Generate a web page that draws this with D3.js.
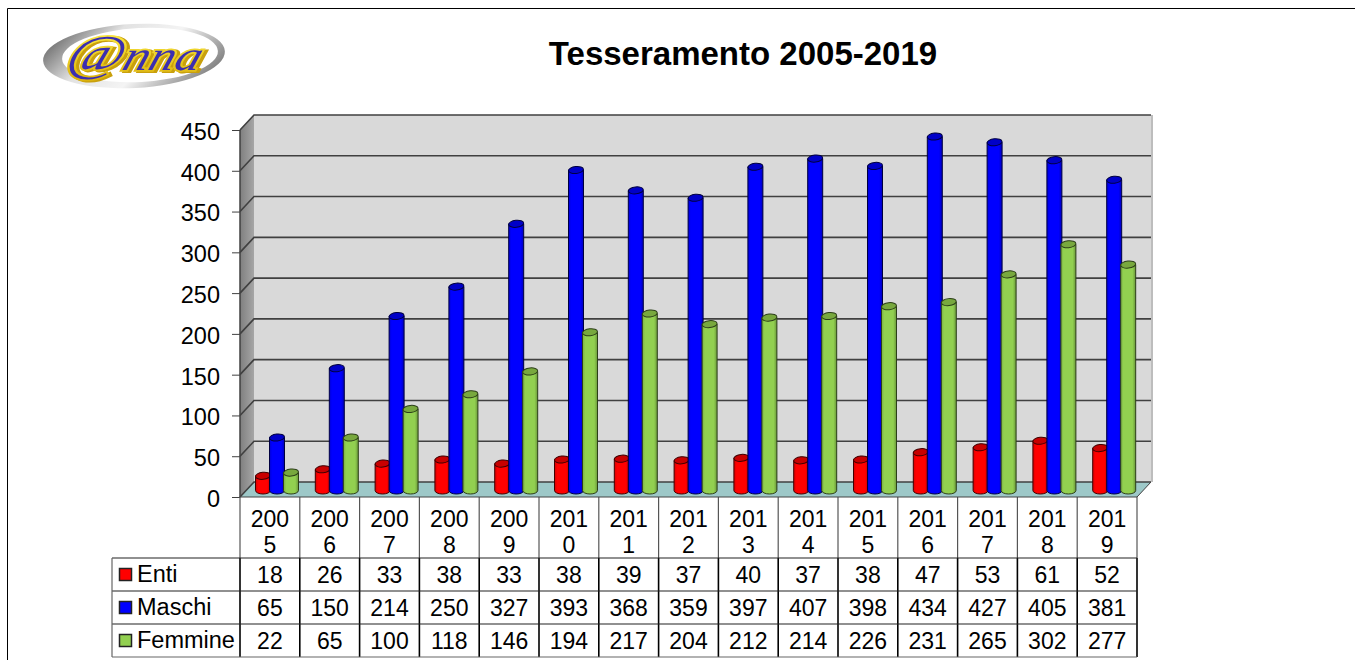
<!DOCTYPE html>
<html>
<head>
<meta charset="utf-8">
<script src="https://cdn.jsdelivr.net/npm/d3@7"></script>
<style>
  html, body { margin: 0; padding: 0; background: #fff; overflow: hidden; }
  svg { display: block; font-family: "Liberation Sans", Arial, sans-serif; }
</style>
</head>
<body>
<svg id="chart" width="1355" height="660"></svg>
<script>
/* ---------- Daten ---------- */
const years   = ["2005","2006","2007","2008","2009","2010","2011","2012","2013","2014","2015","2016","2017","2018","2019"];
const enti    = [18,26,33,38,33,38,39,37,40,37,38,47,53,61,52];
const maschi  = [65,150,214,250,327,393,368,359,397,407,398,434,427,405,381];
const femmine = [22,65,100,118,146,194,217,204,212,214,226,231,265,302,277];
const yTicks  = [0,50,100,150,200,250,300,350,400,450];

const seriesNames  = ["Enti","Maschi","Femmine"];
const seriesValues = [enti, maschi, femmine];
const seriesFill   = ["#ff0000","#0000ff","#92d050"];
const seriesTop    = ["#c80000","#0000c8","#78a83e"];
const seriesEdge   = ["#400000","#000040","#2c3f18"];

/* ---------- Grund-Setup ---------- */
const svg = d3.select("#chart");
const depth = { x: 14, y: 15 };
const plot = { left: 240, right: 1137, top: 130, bottom: 497 };

const x = d3.scaleBand().domain(years).range([plot.left, plot.right]);
const inner = d3.scaleBand().domain(seriesNames).range([16, 58]);
const y = d3.scaleLinear().domain([0, 450]).range([plot.bottom, plot.top]);

const defs = svg.append("defs");
seriesNames.forEach((name, i) => {
  const c = d3.color(seriesFill[i]);
  const grad = defs.append("linearGradient").attr("id", "cyl" + i);
  grad.append("stop").attr("offset", "0%").attr("stop-color", c.darker(0.5));
  grad.append("stop").attr("offset", "18%").attr("stop-color", c);
  grad.append("stop").attr("offset", "78%").attr("stop-color", c);
  grad.append("stop").attr("offset", "100%").attr("stop-color", c.darker(0.9));
});
const wall = defs.append("linearGradient").attr("id", "sideWall");
wall.append("stop").attr("offset", "0%").attr("stop-color", "#7f7f7f");
wall.append("stop").attr("offset", "100%").attr("stop-color", "#a6a6a6");

const ring = defs.append("linearGradient").attr("id", "logoRing")
  .attr("x1", 0).attr("x2", 1).attr("y1", 0.3).attr("y2", 0.7);
ring.append("stop").attr("offset", "0%").attr("stop-color", "#6e6e6e");
ring.append("stop").attr("offset", "30%").attr("stop-color", "#e2e2e2");
ring.append("stop").attr("offset", "60%").attr("stop-color", "#f4f4f4");
ring.append("stop").attr("offset", "100%").attr("stop-color", "#7a7a7a");
const gold = defs.append("linearGradient").attr("id", "logoGold")
  .attr("x1", 0).attr("x2", 0).attr("y1", 0).attr("y2", 1);
gold.append("stop").attr("offset", "0%").attr("stop-color", "#fff04a");
gold.append("stop").attr("offset", "100%").attr("stop-color", "#dcb30c");
defs.append("filter").attr("id", "soft").append("feGaussianBlur").attr("stdDeviation", 0.7);

/* ---------- Rahmen ---------- */
svg.append("path").attr("d", "M7.5,660V8.5H1355")
  .attr("fill", "none").attr("stroke", "#000").attr("stroke-width", 1);

/* ---------- Logo ---------- */
const logo = svg.append("g").attr("filter", "url(#soft)");
logo.append("ellipse").attr("cx", 134).attr("cy", 56).attr("rx", 91).attr("ry", 32)
  .attr("fill", "url(#logoRing)").attr("transform", "rotate(-3 134 56)");
logo.append("ellipse").attr("cx", 140).attr("cy", 55).attr("rx", 78).attr("ry", 27)
  .attr("fill", "#fff").attr("transform", "rotate(-3 140 55)");
const logoText = (dx0, dy0, fill, stroke, sw) => {
  const t = logo.append("text")
    .attr("transform", `translate(${64 + dx0},${70 + dy0}) skewX(-18)`)
    .attr("font-family", "'Liberation Serif', serif").attr("font-style", "italic")
    .attr("font-size", 42).attr("fill", fill).attr("stroke", stroke).attr("stroke-width", sw)
    .attr("textLength", 134).attr("lengthAdjust", "spacingAndGlyphs");
  t.append("tspan").attr("font-size", 50).text("@");
  t.append("tspan").text("nna");
};
logoText(3, 1, "#c9a00a", "#c9a00a", 4);
logoText(0, 0, "url(#logoGold)", "url(#logoGold)", 3.6);
logoText(0, 0, "#3a2fb0", "none", 0);

/* ---------- Titel ---------- */
svg.append("text").attr("x", 743).attr("y", 65).attr("text-anchor", "middle")
  .attr("font-size", 33).attr("font-weight", "bold").attr("fill", "#000")
  .text("Tesseramento 2005-2019");

/* ---------- 3D-Waende ---------- */
const dx = depth.x, dy = depth.y;
svg.append("polygon")
  .attr("points", [[plot.left + dx, plot.top - dy], [plot.right + dx, plot.top - dy], [plot.right + dx, plot.bottom - dy], [plot.left + dx, plot.bottom - dy]].join(" "))
  .attr("fill", "#d9d9d9");
svg.append("polygon")
  .attr("points", [[plot.left, plot.top], [plot.left + dx, plot.top - dy], [plot.left + dx, plot.bottom - dy], [plot.left, plot.bottom]].join(" "))
  .attr("fill", "url(#sideWall)");
svg.append("polygon")
  .attr("points", [[plot.left, plot.bottom], [plot.left + dx, plot.bottom - dy], [plot.right + dx, plot.bottom - dy], [plot.right, plot.bottom]].join(" "))
  .attr("fill", "#9dc8c8");
svg.append("line")
  .attr("x1", plot.right + dx + 1).attr("x2", plot.right + dx + 1)
  .attr("y1", plot.top - dy).attr("y2", plot.bottom - dy)
  .attr("stroke", "#bdbdbd").attr("stroke-width", 2);

/* Gitterlinien */
const grid = svg.append("g").attr("fill", "none").attr("stroke", "#404040").attr("stroke-width", 1.6);
yTicks.forEach(t => {
  grid.append("path").attr("d", `M${plot.left},${y(t)}L${plot.left + dx},${y(t) - dy}L${plot.right + dx},${y(t) - dy}`);
});
svg.append("path").attr("d", `M${plot.right},${plot.bottom}L${plot.right + dx},${plot.bottom - dy}`)
  .attr("stroke", "#404040").attr("fill", "none");

/* Y-Achse */
const axis = svg.append("g").attr("transform", `translate(${plot.left},0)`)
  .call(d3.axisLeft(y).tickValues(yTicks).tickSize(8).tickPadding(12).tickFormat(d3.format("d")));
axis.selectAll("text").attr("font-size", 23.5).attr("dy", "0.4em").attr("font-family", "'Liberation Sans', Arial, sans-serif").attr("fill", "#000");
axis.selectAll("line").attr("stroke", "#404040");
axis.select(".domain").attr("stroke", "#404040").attr("stroke-width", 1.5).attr("d", `M0,${plot.top}V${plot.bottom}`);

/* ---------- Zylinder ---------- */
const barWidth = 15, ry = 3.5, baseLift = 6.5;
const bars = svg.append("g");
years.forEach((yr, c) => {
  seriesNames.forEach((name, s) => {
    const v = seriesValues[s][c];
    const cx = x(yr) + inner(name) + inner.bandwidth() / 2;
    const yb = y(0) - baseLift, yt = y(v) - baseLift;
    const r = barWidth / 2;
    bars.append("path")
      .attr("d", `M${cx - r},${yt}V${yb}A${r},${ry} 0 0 0 ${cx + r},${yb}V${yt}Z`)
      .attr("fill", `url(#cyl${s})`).attr("stroke", seriesEdge[s]).attr("stroke-width", 1);
    bars.append("ellipse")
      .attr("cx", cx).attr("cy", yt).attr("rx", r).attr("ry", ry)
      .attr("fill", seriesTop[s]).attr("stroke", seriesEdge[s]).attr("stroke-width", 1)
      .attr("transform", `rotate(-6 ${cx} ${yt})`);
  });
});

/* ---------- Datentabelle ---------- */
const tableLeft = 112;
const rows = [plot.bottom, 558, 591, 624, 657];
const table = svg.append("g").attr("fill", "none");

x.domain().concat("end").forEach(yr => {
  const xx = yr === "end" ? plot.right : x(yr);
  table.append("line").attr("x1", xx).attr("x2", xx).attr("y1", rows[0]).attr("y2", rows[1]).attr("stroke", "#555").attr("stroke-width", 1.2);
  table.append("line").attr("x1", xx).attr("x2", xx).attr("y1", rows[1]).attr("y2", rows[4]).attr("stroke", "#000").attr("stroke-width", 1.6);
});
rows.slice(1).forEach((r, i) => {
  table.append("line").attr("x1", tableLeft).attr("x2", plot.right).attr("y1", r).attr("y2", r)
    .attr("stroke", i === 3 ? "#666" : "#222").attr("stroke-width", 1.2);
});
table.append("line").attr("x1", tableLeft).attr("x2", tableLeft).attr("y1", rows[1]).attr("y2", rows[4]).attr("stroke", "#666").attr("stroke-width", 1.2);
table.append("line").attr("x1", plot.left).attr("x2", plot.right).attr("y1", rows[0]).attr("y2", rows[0]).attr("stroke", "#444").attr("stroke-width", 1.2);

const labels = svg.append("g").attr("font-size", 23).attr("fill", "#000").attr("text-anchor", "middle");
years.forEach((yr, c) => {
  const cx = x(yr) + x.bandwidth() / 2;
  labels.append("text").attr("x", cx).attr("y", 527).text(yr.slice(0, 3));
  labels.append("text").attr("x", cx).attr("y", 553).text(yr.slice(3));
  seriesNames.forEach((name, s) => {
    labels.append("text").attr("x", cx).attr("y", rows[s + 1] + 25).text(seriesValues[s][c]);
  });
});

seriesNames.forEach((name, s) => {
  svg.append("rect").attr("x", 119.5).attr("y", rows[s + 1] + 10.5).attr("width", 12).attr("height", 12)
    .attr("fill", seriesFill[s]).attr("stroke", "#222").attr("stroke-width", 1.5);
  svg.append("text").attr("x", 137).attr("y", rows[s + 1] + 23.5).attr("font-size", 23.5).attr("fill", "#000").text(name);
});
</script>
</body>
</html>
